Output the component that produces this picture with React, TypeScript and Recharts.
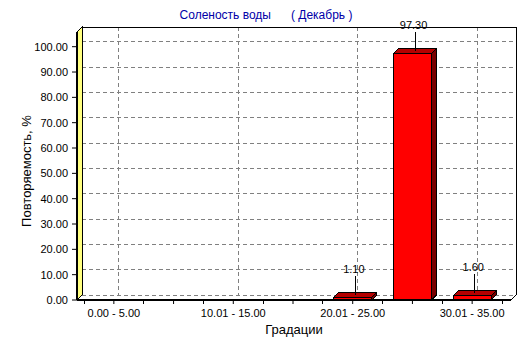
import React from "react";
import {
  BarChart,
  Bar,
  XAxis,
  YAxis,
  CartesianGrid,
  ReferenceArea,
  LabelList,
} from "recharts";

const CATEGORIES = [
  "0.00 - 5.00",
  "5.01 - 10.00",
  "10.01 - 15.00",
  "15.01 - 20.00",
  "20.01 - 25.00",
  "25.01 - 30.00",
  "30.01 - 35.00",
];
const VALUES = [0, 0, 0, 0, 1.1, 97.3, 1.6];
const Y_TICKS = [0, 10, 20, 30, 40, 50, 60, 70, 80, 90, 100];

const TITLE = "Соленость воды      ( Декабрь )";
const X_TITLE = "Градации";
const Y_TITLE = "Повторяемость, %";

const data = CATEGORIES.map((name, i) => ({ name, value: VALUES[i] }));

// layout
const W = 532;
const H = 343;
const FONT = '"Liberation Sans", Arial, sans-serif';
const MARGIN = { top: 32, right: 21, left: 0, bottom: 0 };
const Y_AXIS_W = 77;
const X_AXIS_H = 43;
const PAD_L = 7;
const PAD_R = 9;
const DEPTH = 5;
const Y_MAX = 105.8;
const GRID = "#808080";
const DASH = "4 3";

const PLOT_W = W - MARGIN.left - MARGIN.right - Y_AXIS_W;
const BAND = (PLOT_W - PAD_L - PAD_R) / CATEGORIES.length;

// frame of the 3d box: back wall edges + yellow left wall
function Walls(props: any) {
  const x = props.x - PAD_L;
  const w = props.width + PAD_L + PAD_R;
  const y = props.y;
  const h = props.height;
  const d = DEPTH;
  return (
    <g shapeRendering="crispEdges">
      <polygon
        points={`${x},${y} ${x + d},${y - d} ${x + d},${y + h - d} ${x},${y + h}`}
        fill="#ffff80"
        stroke="#000"
      />
      <line x1={x - 0.5} y1={y} x2={x - 0.5} y2={y + h} stroke="#000" strokeWidth={2} />
      <line x1={x + d} y1={y - d} x2={x + w + d} y2={y - d} stroke="#000" />
      <line x1={x + w + d} y1={y - d} x2={x + w + d} y2={y + h - d} stroke="#000" />
      <line x1={x + w} y1={y + h} x2={x + w + d} y2={y + h - d} stroke="#000" />
    </g>
  );
}

function Bar3D(props: any) {
  const { x, y, width, height } = props;
  if (!height || height <= 0) return null;
  const d = DEPTH;
  return (
    <g shapeRendering="crispEdges">
      <polygon
        points={`${x},${y} ${x + d},${y - d} ${x + width + d},${y - d} ${x + width},${y}`}
        fill="#b40000"
        stroke="#000"
      />
      <polygon
        points={`${x + width},${y} ${x + width + d},${y - d} ${x + width + d},${y + height - d} ${x + width},${y + height}`}
        fill="#780000"
        stroke="#000"
      />
      <rect x={x} y={y} width={width} height={height} fill="#ff0000" stroke="#000" />
    </g>
  );
}

function ValueLabel(props: any) {
  const vb = props.viewBox || {};
  const x = props.x ?? vb.x;
  const y = props.y ?? vb.y;
  const width = props.width ?? vb.width;
  const value = Number(props.value);
  if (!value) return null;
  const cx = x + width / 2 + DEPTH / 2;
  const top = y - DEPTH / 2;
  return (
    <g>
      <line x1={cx} y1={top} x2={cx} y2={top - 19} stroke="#000" shapeRendering="crispEdges" />
      <text x={cx - 1.5} y={top - 22} textAnchor="middle" fontSize={11} fill="#000">
        {value.toFixed(2)}
      </text>
    </g>
  );
}

function XTick(props: any) {
  const { x, y, payload, index } = props;
  const axisY = y - 9;
  return (
    <g shapeRendering="crispEdges">
      <line x1={x - BAND / 2} y1={axisY} x2={x - BAND / 2} y2={axisY + 4} stroke="#000" />
      {index === CATEGORIES.length - 1 && (
        <line x1={x + BAND / 2} y1={axisY} x2={x + BAND / 2} y2={axisY + 4} stroke="#000" />
      )}
      {index % 2 === 0 && (
        <text x={x} y={y} dy="0.71em" textAnchor="middle" fontSize={11} fill="#000">
          {payload.value}
        </text>
      )}
    </g>
  );
}

export default function App() {
  return (
    <div
      style={{
        position: "absolute",
        left: 0,
        top: 0,
        width: W,
        height: H,
        background: "#fff",
        fontFamily: FONT,
      }}
    >
      <BarChart width={W} height={H} data={data} margin={MARGIN}>
        <ReferenceArea shape={<Walls />} fill="none" stroke="none" ifOverflow="visible" />
        <CartesianGrid
          horizontal={(p: any) => (
            <line
              key={p.key}
              x1={p.x1 + DEPTH}
              y1={p.y1 - DEPTH}
              x2={p.x2 + DEPTH}
              y2={p.y2 - DEPTH}
              stroke={GRID}
              strokeDasharray={DASH}
              shapeRendering="crispEdges"
            />
          )}
          vertical={(p: any) =>
            p.index % 2 === 0 ? (
              <line
                key={p.key}
                x1={p.x1 + DEPTH}
                y1={p.y1 - DEPTH}
                x2={p.x2 + DEPTH}
                y2={p.y2 - DEPTH}
                stroke={GRID}
                strokeDasharray={DASH}
                shapeRendering="crispEdges"
              />
            ) : (
              <g key={p.key} />
            )
          }
        />
        <XAxis
          dataKey="name"
          height={X_AXIS_H}
          interval={0}
          padding={{ left: PAD_L, right: PAD_R }}
          axisLine={{ stroke: "#000", strokeWidth: 2 }}
          tickLine={{ stroke: "#000" }}
          tickSize={4}
          tickMargin={5}
          tick={<XTick />}
          label={{
            value: X_TITLE,
            content: (p: any) => {
              const vb = p.viewBox;
              return (
                <text x={vb.x + vb.width / 2} y={vb.y + 34} textAnchor="middle" fontSize={13} fill="#000">
                  {X_TITLE}
                </text>
              );
            },
          }}
        />
        <YAxis
          width={Y_AXIS_W}
          domain={[0, Y_MAX]}
          ticks={Y_TICKS}
          interval={0}
          tickFormatter={(v: number) => v.toFixed(2)}
          axisLine={false}
          tickLine={{ stroke: "#000" }}
          tickSize={5}
          tickMargin={4}
          tick={{ fill: "#000", fontSize: 11 }}
          label={{
            value: Y_TITLE,
            content: (p: any) => {
              const vb = p.viewBox;
              const cy = vb.y + vb.height / 2 + 5;
              return (
                <text
                  x={30.5}
                  y={cy}
                  transform={`rotate(-90, 30.5, ${cy})`}
                  textAnchor="middle"
                  fontSize={13}
                  fill="#000"
                >
                  {Y_TITLE}
                </text>
              );
            },
          }}
        />
        <Bar dataKey="value" barSize={38} shape={(p: any) => <Bar3D {...p} />} isAnimationActive={false}>
          <LabelList dataKey="value" content={(p: any) => <ValueLabel {...p} />} />
        </Bar>
      </BarChart>
      <div
        style={{
          position: "absolute",
          left: 0,
          top: 8,
          width: W,
          textAlign: "center",
          fontSize: 12,
          lineHeight: "14px",
          color: "#0000a8",
          whiteSpace: "pre",
        }}
      >
        {TITLE}
      </div>
    </div>
  );
}
